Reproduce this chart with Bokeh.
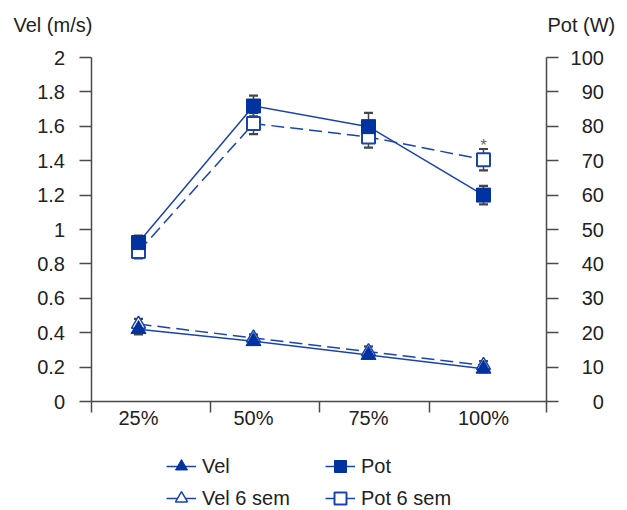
from bokeh.plotting import figure
from bokeh.models import (Range1d, LinearAxis, FixedTicker, Whisker, ColumnDataSource,
                          Legend, LegendItem, Label, TeeHead)
from bokeh.core.properties import value
from bokeh.embed import file_html
from bokeh.resources import INLINE

# ---- data ----
categories = ["25%", "50%", "75%", "100%"]
xpos = [1, 2, 3, 4]

vel = [0.42, 0.35, 0.27, 0.19]
vel_err = [0.03, 0.02, 0.02, 0.02]
vel6 = [0.45, 0.37, 0.29, 0.21]
vel6_err = [0.03, 0.02, 0.03, 0.025]

pot = [46.2, 85.9, 79.9, 60.0]
pot_err = [2.0, 3.0, 4.0, 2.7]
pot6 = [43.6, 80.8, 76.9, 70.3]
pot6_err = [2.0, 3.1, 3.1, 3.1]

sig = ["", "", "", "*"]

vel_ticks = [0, 0.2, 0.4, 0.6, 0.8, 1, 1.2, 1.4, 1.6, 1.8, 2]
vel_tick_labels = ["0", "0.2", "0.4", "0.6", "0.8", "1", "1.2", "1.4", "1.6", "1.8", "2"]
pot_ticks = [0, 10, 20, 30, 40, 50, 60, 70, 80, 90, 100]
pot_tick_labels = ["0", "10", "20", "30", "40", "50", "60", "70", "80", "90", "100"]

# ---- layout constants ----
W, H = 627, 510
AX_LEFT, AX_RIGHT = 0.587, 4.548          # x positions of the two vertical axes
sep_ticks = [0.588, 1.626, 2.574, 3.53, 4.547]
X_RANGE = (-0.2, -0.2 + W / 115.0)
Y_RANGE = (-109 / 172.0, 2 + 57 / 172.0)
P_RANGE = (-109 / 3.44, 100 + 57 / 3.44)
BLUE = "#0033a0"
LINE = "#1a44ac"
ERR = "#454545"
AX = "#4a4a4a"
TXT = "#222222"
FONT = "Liberation Sans"
FS = "20px"

src = ColumnDataSource(dict(
    x=xpos,
    vel=vel, vel_lo=[v - e for v, e in zip(vel, vel_err)], vel_hi=[v + e for v, e in zip(vel, vel_err)],
    vel6=vel6, vel6_lo=[v - e for v, e in zip(vel6, vel6_err)], vel6_hi=[v + e for v, e in zip(vel6, vel6_err)],
    pot=pot, pot_lo=[v - e for v, e in zip(pot, pot_err)], pot_hi=[v + e for v, e in zip(pot, pot_err)],
    pot6=pot6, pot6_lo=[v - e for v, e in zip(pot6, pot6_err)], pot6_hi=[v + e for v, e in zip(pot6, pot6_err)],
    sig=sig,
))

p = figure(width=W, height=H, x_range=Range1d(*X_RANGE), y_range=Range1d(*Y_RANGE),
           output_backend="svg", toolbar_location=None, min_border=0)
p.extra_y_ranges = {"pot": Range1d(*P_RANGE)}
p.xgrid.visible = False
p.ygrid.visible = False
p.outline_line_color = None
p.background_fill_color = "white"
p.border_fill_color = "white"

# x axis
xa = p.xaxis[0]
xa.fixed_location = 0
xa.bounds = (AX_LEFT, AX_RIGHT)
xa.ticker = FixedTicker(ticks=xpos, minor_ticks=sep_ticks)
xa.major_label_overrides = {k: c for k, c in zip(xpos, categories)}
xa.major_tick_line_color = None
xa.major_tick_out = 0
xa.major_tick_in = 0
xa.minor_tick_out = 11
xa.minor_tick_in = 0
xa.minor_tick_line_color = AX
xa.minor_tick_line_width = 1.5
xa.axis_line_color = AX
xa.axis_line_width = 1.5
xa.major_label_standoff = -6

# left axis
ya = p.yaxis[0]
ya.fixed_location = AX_LEFT
ya.bounds = (0, 2)
ya.ticker = FixedTicker(ticks=vel_ticks, minor_ticks=[])
ya.major_label_overrides = {k: l for k, l in zip(vel_ticks, vel_tick_labels)}
ya.major_tick_out = 12
ya.major_tick_in = 0
ya.major_tick_line_color = AX
ya.major_tick_line_width = 1.5
ya.minor_tick_line_color = None
ya.axis_line_color = AX
ya.axis_line_width = 1.5
ya.major_label_standoff = 14

# right axis
ra = LinearAxis(y_range_name="pot", fixed_location=AX_RIGHT, bounds=(0, 100))
ra.ticker = FixedTicker(ticks=pot_ticks, minor_ticks=[])
ra.major_label_overrides = {k: "\u2007" * (3 - len(l)) + l for k, l in zip(pot_ticks, pot_tick_labels)}
ra.major_tick_out = 12
ra.major_tick_in = 0
ra.major_tick_line_color = AX
ra.major_tick_line_width = 1.5
ra.minor_tick_line_color = None
ra.axis_line_color = AX
ra.axis_line_width = 1.5
ra.major_label_standoff = 12
p.add_layout(ra, "right")

for ax in (xa, ya, ra):
    ax.major_label_text_font = FONT
    ax.major_label_text_font_size = FS
    ax.major_label_text_color = TXT

# error bars
def whisker(lo, hi, rng=None):
    kw = dict(base="x", lower=lo, upper=hi, source=src, dimension="height",
              line_color=ERR, line_width=1.5, level="underlay",
              upper_head=TeeHead(size=9, line_color=ERR, line_width=2.2),
              lower_head=TeeHead(size=9, line_color=ERR, line_width=2.2))
    if rng:
        kw["y_range_name"] = rng
    p.add_layout(Whisker(**kw))

whisker("vel6_lo", "vel6_hi")
whisker("vel_lo", "vel_hi")
whisker("pot6_lo", "pot6_hi", "pot")
whisker("pot_lo", "pot_hi", "pot")

# lines
vel6_line = p.line("x", "vel6", source=src, line_color=LINE, line_width=1.5, line_dash="13 6")
pot6_line = p.line("x", "pot6", source=src, y_range_name="pot", line_color=LINE, line_width=1.5, line_dash="13 6")
vel_line = p.line("x", "vel", source=src, line_color=LINE, line_width=1.5)
pot_line = p.line("x", "pot", source=src, y_range_name="pot", line_color=LINE, line_width=1.5)

# markers
vel6_pts = p.scatter("x", "vel6", source=src, marker="triangle", size=14,
                     fill_color="white", line_color=LINE, line_width=1.5)
pot6_pts = p.scatter("x", "pot6", source=src, y_range_name="pot", marker="square", size=13,
                     fill_color="white", line_color=LINE, line_width=2)
vel_pts = p.scatter("x", "vel", source=src, marker="triangle", size=15,
                    fill_color=BLUE, line_color=BLUE, line_width=1)
pot_pts = p.scatter("x", "pot", source=src, y_range_name="pot", marker="square", size=14,
                    fill_color=BLUE, line_color=BLUE, line_width=1)

# significance mark
p.text("x", "pot6_hi", text="sig", source=src, y_range_name="pot",
       text_font=value(FONT), text_font_size="16px", text_color="#666666",
       text_align="center", text_baseline="middle", y_offset=-4)

# axis titles
p.add_layout(Label(x=13, y=H - 24, x_units="screen", y_units="screen", text="Vel (m/s)",
                   text_font=FONT, text_font_size=FS, text_color=TXT, text_baseline="middle"))
p.add_layout(Label(x=547, y=H - 24, x_units="screen", y_units="screen", text="Pot (W)",
                   text_font=FONT, text_font_size=FS, text_color=TXT, text_baseline="middle"))

legend = Legend(items=[
    LegendItem(label="Vel", renderers=[vel_line, vel_pts]),
    LegendItem(label="Pot", renderers=[pot_line, pot_pts]),
    LegendItem(label="Vel 6 sem", renderers=[vel6_line, vel6_pts]),
    LegendItem(label="Pot 6 sem", renderers=[pot6_line, pot6_pts]),
], location=(166, -3), orientation="horizontal", ncols=2,
    glyph_width=30, glyph_height=30, label_standoff=6, label_width=121, spacing=2,
    padding=0, margin=0, border_line_color=None, background_fill_alpha=0,
    label_text_font=FONT, label_text_font_size=FS, label_text_color=TXT)
p.add_layout(legend, "center")

open("out.html", "w").write(file_html(p, INLINE))
